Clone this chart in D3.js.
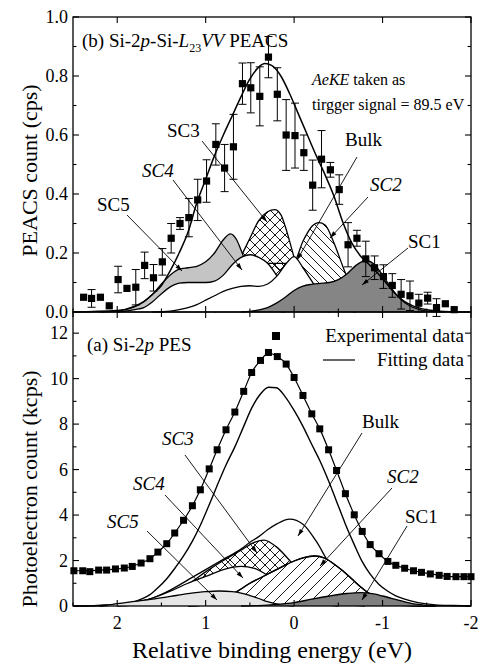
<!DOCTYPE html>
<html>
<head>
<meta charset="utf-8">
<script src="https://cdn.jsdelivr.net/npm/d3@7"></script>
</head>
<body style="margin:0">
<svg id="fig" width="494" height="666"></svg>
<div id="xtitle" style="position:absolute;left:0;top:637px;width:544px;text-align:center;font:24px 'Liberation Serif';line-height:normal;white-space:nowrap">Relative binding energy (eV)</div>
<script>
// ---- axis ticks ----
const energyTicks = [2, 1, 0, -1, -2];
const peacsTicks = [0, 0.2, 0.4, 0.6, 0.8, 1.0];
const pesTicks = [0, 2, 4, 6, 8, 10, 12];

// ---- (b) PEACS experimental points ----
const peacsX = [2.38, 2.29, 2.19, 2.09, 1.99, 1.89, 1.79, 1.69, 1.59, 1.49, 1.39, 1.29, 1.19, 1.09, 0.99,
  0.885, 0.786, 0.686, 0.584, 0.49, 0.388, 0.29, 0.19, 0.09, -0.01, -0.11, -0.21, -0.31, -0.41, -0.51,
  -0.61, -0.71, -0.81, -0.91, -1.01, -1.11, -1.21, -1.31, -1.41, -1.51, -1.61, -1.71, -1.81];
const peacsY = [0.050, 0.046, 0.050, 0.021, 0.110, 0.080, 0.084, 0.158, 0.116, 0.170, 0.250, 0.300, 0.320, 0.380, 0.444,
  0.568, 0.488, 0.560, 0.774, 0.760, 0.731, 0.864, 0.738, 0.600, 0.598, 0.540, 0.430, 0.518, 0.482, 0.415,
  0.228, 0.250, 0.180, 0.150, 0.120, 0.090, 0.060, 0.055, 0.030, 0.047, 0.015, 0.028, 0.008];
const peacsErr = [0, 0.03, 0, 0, 0.045, 0, 0.06, 0.045, 0.045, 0.045, 0.05, 0.02, 0.065, 0.07, 0.072,
  0.07, 0.08, 0.11, 0.07, 0.085, 0.10, 0.07, 0.09, 0.12, 0.11, 0.06, 0.085, 0.097, 0.025, 0.05,
  0.075, 0.027, 0.06, 0.04, 0.04, 0.04, 0.05, 0.05, 0.03, 0.02, 0.03, 0, 0];

// ---- (b) PEACS fitted curves [energy, cps] ----
const peacsFit = [[2.5, 0], [2.0, 0.005], [1.8, 0.02], [1.7, 0.035], [1.6, 0.06], [1.5, 0.09], [1.4, 0.14],
  [1.3, 0.2], [1.2, 0.27], [1.1, 0.37], [1.0, 0.45], [0.9, 0.53], [0.8, 0.6], [0.7, 0.665], [0.6, 0.73],
  [0.5, 0.79], [0.4, 0.83], [0.33, 0.842], [0.25, 0.835], [0.15, 0.8], [0.05, 0.74], [-0.05, 0.67],
  [-0.15, 0.6], [-0.25, 0.53], [-0.35, 0.465], [-0.45, 0.393], [-0.55, 0.305], [-0.65, 0.235],
  [-0.75, 0.19], [-0.85, 0.16], [-0.95, 0.13], [-1.05, 0.095], [-1.15, 0.06], [-1.25, 0.035],
  [-1.35, 0.02], [-1.5, 0.008], [-1.7, 0.002], [-2.0, 0]];
const peacsSC5 = [[2.2, 0], [2.0, 0.003], [1.9, 0.008], [1.8, 0.018], [1.7, 0.035], [1.6, 0.06], [1.5, 0.095],
  [1.4, 0.125], [1.3, 0.145], [1.2, 0.15], [1.1, 0.155], [1.0, 0.17], [0.9, 0.2], [0.8, 0.245], [0.72, 0.265],
  [0.65, 0.245], [0.6, 0.21], [0.5, 0.13], [0.4, 0.06], [0.3, 0.02], [0.2, 0.005], [0.1, 0]];
const peacsSC4 = [[2.0, 0], [1.8, 0.008], [1.7, 0.015], [1.6, 0.035], [1.5, 0.062], [1.4, 0.085], [1.3, 0.098],
  [1.2, 0.1], [1.1, 0.1], [1.0, 0.1], [0.9, 0.105], [0.8, 0.125], [0.7, 0.16], [0.6, 0.185], [0.5, 0.194],
  [0.4, 0.185], [0.3, 0.165], [0.2, 0.125], [0.1, 0.075], [0.0, 0.035], [-0.1, 0.012], [-0.2, 0]];
const peacsSC3 = [[1.5, 0], [1.3, 0.01], [1.2, 0.02], [1.1, 0.04], [1.0, 0.07], [0.9, 0.1], [0.8, 0.13],
  [0.7, 0.15], [0.6, 0.19], [0.5, 0.25], [0.4, 0.31], [0.3, 0.34], [0.22, 0.347], [0.15, 0.33], [0.1, 0.29],
  [0.0, 0.185], [-0.1, 0.09], [-0.2, 0.035], [-0.3, 0.01], [-0.4, 0]];
const peacsBulk = [[1.6, 0], [1.4, 0.003], [1.3, 0.008], [1.2, 0.015], [1.1, 0.025], [1.0, 0.04], [0.9, 0.055],
  [0.8, 0.07], [0.7, 0.08], [0.6, 0.087], [0.5, 0.089], [0.4, 0.087], [0.3, 0.095], [0.2, 0.12], [0.1, 0.16],
  [0.0, 0.188], [-0.1, 0.15], [-0.2, 0.105], [-0.3, 0.06], [-0.4, 0.03], [-0.5, 0.012], [-0.6, 0.004], [-0.7, 0]];
const peacsSC2 = [[0.9, 0], [0.8, 0.01], [0.7, 0.035], [0.6, 0.08], [0.5, 0.125], [0.4, 0.155], [0.3, 0.165],
  [0.2, 0.165], [0.1, 0.165], [0.0, 0.17], [-0.1, 0.24], [-0.2, 0.29], [-0.28, 0.303], [-0.35, 0.295],
  [-0.45, 0.235], [-0.55, 0.155], [-0.65, 0.08], [-0.75, 0.03], [-0.85, 0.01], [-1.0, 0]];
const peacsSC1 = [[0.6, 0], [0.5, 0.002], [0.4, 0.007], [0.3, 0.015], [0.2, 0.03], [0.1, 0.05], [0.0, 0.073],
  [-0.1, 0.088], [-0.2, 0.094], [-0.3, 0.097], [-0.4, 0.1], [-0.5, 0.11], [-0.6, 0.13], [-0.7, 0.158],
  [-0.8, 0.173], [-0.85, 0.172], [-0.9, 0.163], [-1.0, 0.125], [-1.1, 0.08], [-1.2, 0.045], [-1.3, 0.022],
  [-1.4, 0.01], [-1.5, 0.003], [-1.7, 0]];

// ---- (a) PES experimental points ----
const pesX = [2.49, 2.39, 2.31, 2.21, 2.12, 2.02, 1.92, 1.83, 1.73, 1.63, 1.54, 1.44, 1.35, 1.25, 1.15, 1.06,
  0.96, 0.87, 0.77, 0.67, 0.57, 0.48, 0.38, 0.29, 0.19, 0.09, 0.0, -0.10, -0.20, -0.29, -0.39, -0.48,
  -0.58, -0.68, -0.77, -0.86, -0.96, -1.06, -1.15, -1.25, -1.35, -1.44, -1.54, -1.64, -1.73, -1.83, -1.92, -2.0];
const pesY = [1.55, 1.55, 1.51, 1.58, 1.58, 1.63, 1.67, 1.74, 1.89, 2.08, 2.37, 2.74, 3.21, 3.77, 4.41, 5.11,
  6.03, 6.87, 7.75, 8.53, 9.44, 10.27, 10.80, 11.15, 10.97, 10.64, 10.05, 9.26, 8.45, 7.79, 6.87, 5.96,
  4.94, 4.01, 3.28, 2.70, 2.30, 1.96, 1.79, 1.66, 1.55, 1.48, 1.41, 1.35, 1.30, 1.29, 1.29, 1.29];

// ---- (a) PES fitted curves [energy, kcps] ----
const pesFit = [[2.5, 1.55], [2.39, 1.55], [2.21, 1.57], [2.02, 1.62], [1.92, 1.67], [1.83, 1.75], [1.73, 1.89],
  [1.63, 2.08], [1.54, 2.37], [1.44, 2.74], [1.35, 3.21], [1.25, 3.77], [1.15, 4.41], [1.06, 5.11], [0.96, 6.03],
  [0.87, 6.87], [0.77, 7.75], [0.67, 8.53], [0.57, 9.44], [0.48, 10.27], [0.38, 10.8], [0.29, 11.12],
  [0.19, 10.97], [0.09, 10.64], [0.0, 10.05], [-0.1, 9.26], [-0.2, 8.45], [-0.29, 7.79], [-0.39, 6.87],
  [-0.48, 5.96], [-0.58, 4.94], [-0.68, 4.01], [-0.77, 3.28], [-0.86, 2.7], [-0.96, 2.3], [-1.06, 1.96],
  [-1.15, 1.79], [-1.25, 1.66], [-1.35, 1.55], [-1.44, 1.48], [-1.54, 1.41], [-1.64, 1.35], [-1.73, 1.3],
  [-1.83, 1.29], [-2.0, 1.29]];
const pesSum = [[2.5, 0], [2.3, 0.01], [2.1, 0.05], [1.92, 0.1], [1.82, 0.17], [1.73, 0.3], [1.63, 0.5],
  [1.54, 0.8], [1.44, 1.2], [1.35, 1.65], [1.25, 2.2], [1.15, 2.85], [1.06, 3.55], [0.96, 4.45], [0.87, 5.3],
  [0.77, 6.2], [0.67, 7.0], [0.57, 7.9], [0.48, 8.7], [0.385, 9.3], [0.29, 9.62], [0.2, 9.6], [0.1, 9.2],
  [0.0, 8.6], [-0.1, 7.9], [-0.2, 7.1], [-0.29, 6.4], [-0.39, 5.5], [-0.48, 4.6], [-0.58, 3.6], [-0.68, 2.7],
  [-0.77, 1.95], [-0.86, 1.4], [-0.96, 0.95], [-1.06, 0.65], [-1.15, 0.45], [-1.25, 0.3], [-1.4, 0.15],
  [-1.6, 0.05], [-1.8, 0.02], [-2.0, 0]];
const pesBulk = [[2.2, 0], [2.0, 0.05], [1.8, 0.15], [1.6, 0.35], [1.4, 0.7], [1.2, 1.15], [1.0, 1.6],
  [0.8, 2.05], [0.6, 2.5], [0.5, 2.8], [0.4, 3.05], [0.3, 3.35], [0.2, 3.6], [0.05, 3.82], [-0.1, 3.6],
  [-0.25, 2.85], [-0.4, 1.85], [-0.55, 1.1], [-0.7, 0.6], [-0.85, 0.28], [-1.0, 0.12], [-1.2, 0.03], [-1.5, 0]];
const pesSC3 = [[2.0, 0], [1.8, 0.05], [1.6, 0.2], [1.4, 0.5], [1.2, 0.95], [1.0, 1.5], [0.8, 2.0], [0.6, 2.45],
  [0.45, 2.8], [0.34, 2.9], [0.2, 2.6], [0.05, 2.0], [-0.1, 1.3], [-0.25, 0.7], [-0.4, 0.3], [-0.6, 0.07], [-0.8, 0]];
const pesSC4 = [[2.2, 0], [2.0, 0.05], [1.8, 0.15], [1.6, 0.35], [1.4, 0.65], [1.2, 1.0], [1.0, 1.3], [0.8, 1.6],
  [0.6, 1.74], [0.45, 1.65], [0.3, 1.35], [0.15, 0.95], [0.0, 0.55], [-0.15, 0.25], [-0.3, 0.08], [-0.5, 0]];
const pesSC2 = [[1.2, 0], [1.0, 0.05], [0.9, 0.15], [0.8, 0.3], [0.7, 0.5], [0.6, 0.75], [0.5, 1.0], [0.4, 1.2],
  [0.3, 1.4], [0.2, 1.6], [0.1, 1.8], [0.0, 1.98], [-0.1, 2.12], [-0.23, 2.2], [-0.35, 2.1], [-0.45, 1.85],
  [-0.55, 1.55], [-0.65, 1.2], [-0.75, 0.85], [-0.85, 0.55], [-0.95, 0.32], [-1.05, 0.17], [-1.2, 0.06],
  [-1.4, 0.01], [-1.6, 0]];
const pesSC5 = [[2.5, 0], [2.2, 0.02], [2.0, 0.1], [1.8, 0.2], [1.6, 0.3], [1.4, 0.42], [1.2, 0.54], [1.0, 0.63],
  [0.85, 0.66], [0.7, 0.63], [0.6, 0.57], [0.5, 0.46], [0.4, 0.33], [0.3, 0.19], [0.2, 0.09], [0.1, 0.03], [0.0, 0]];
const pesSC1 = [[0.6, 0], [0.4, 0.02], [0.2, 0.07], [0.0, 0.15], [-0.2, 0.3], [-0.4, 0.44], [-0.6, 0.55],
  [-0.75, 0.59], [-0.9, 0.53], [-1.0, 0.44], [-1.1, 0.34], [-1.2, 0.24], [-1.3, 0.14], [-1.4, 0.07],
  [-1.5, 0.03], [-1.7, 0.005], [-2.0, 0]];

const svg = d3.select('#fig');
const left = 73, right = 471;
const topY0 = 17, midY = 312, botY = 606;

const x = d3.scaleLinear().domain([2.5, -2]).range([left, right]);
const yTop = d3.scaleLinear().domain([0, 1]).range([midY, topY0]);
const yBot = d3.scaleLinear().domain([0, 12.93]).range([botY, midY]);

// hatch patterns
const defs = svg.append('defs');
function hatch(id, size, dirs) {
  const p = defs.append('pattern').attr('id', id).attr('patternUnits', 'userSpaceOnUse')
    .attr('width', size).attr('height', size);
  let d = '';
  if (dirs.includes('/')) d += `M${-size},${size} L${size},${-size} M0,${size} L${size},0 M0,${2 * size} L${2 * size},0 `;
  if (dirs.includes('\\')) d += `M${-size},0 L${size},${2 * size} M0,0 L${size},${size} M0,${-size} L${2 * size},${size} `;
  p.append('path').attr('d', d).attr('stroke', '#000').attr('stroke-width', 0.9).attr('fill', 'none');
}
hatch('xhatch', 10, '/\\');
hatch('backHatch', 9, '\\');
hatch('fwdHatch', 12, '/');

function drawComp(g, y, pts, fill) {
  const area = d3.area().x(d => x(d[0])).y0(y(0)).y1(d => y(d[1])).curve(d3.curveMonotoneX);
  const line = d3.line().x(d => x(d[0])).y(d => y(d[1])).curve(d3.curveMonotoneX);
  g.append('path').datum(pts).attr('d', area).attr('fill', fill).attr('stroke', 'none');
  g.append('path').datum(pts).attr('d', line).attr('fill', 'none').attr('stroke', '#000').attr('stroke-width', 1.3);
}

function drawLine(g, y, pts, w) {
  const line = d3.line().x(d => x(d[0])).y(d => y(d[1])).curve(d3.curveMonotoneX);
  g.append('path').datum(pts).attr('d', line).attr('fill', 'none').attr('stroke', '#000').attr('stroke-width', w);
}

function frame(y, top, bottom, majors, minors, topMinor) {
  const g = svg.append('g');
  g.append('rect').attr('x', left).attr('y', top).attr('width', right - left).attr('height', bottom - top)
    .attr('fill', 'none').attr('stroke', '#000').attr('stroke-width', 1.3);
  const tk = (x1, y1, x2, y2) => g.append('line').attr('x1', x1).attr('y1', y1).attr('x2', x2).attr('y2', y2)
    .attr('stroke', '#000').attr('stroke-width', 1.1);
  majors.forEach(v => { tk(left, y(v), left + 6, y(v)); tk(right, y(v), right - 6, y(v)); });
  minors.forEach(v => { tk(left, y(v), left + 3.5, y(v)); tk(right, y(v), right - 3.5, y(v)); });
  energyTicks.forEach(v => { tk(x(v), bottom, x(v), bottom - 6); tk(x(v), top, x(v), top + 6); });
  [2.5, 1.5, 0.5, -0.5, -1.5].forEach(v => {
    tk(x(v), bottom, x(v), bottom - 3.5);
    if (topMinor) tk(x(v), top, x(v), top + 5);
  });
  return g;
}

function arrow(g, x1, y1, x2, y2) {
  g.append('line').attr('x1', x1).attr('y1', y1).attr('x2', x2).attr('y2', y2)
    .attr('stroke', '#000').attr('stroke-width', 0.9);
  const a = Math.atan2(y2 - y1, x2 - x1), L = 7, w = 2.2;
  const bx = x2 - L * Math.cos(a), by = y2 - L * Math.sin(a);
  g.append('path').attr('d', `M${x2},${y2} L${bx - w * Math.sin(a)},${by + w * Math.cos(a)} L${bx + w * Math.sin(a)},${by - w * Math.cos(a)} Z`)
    .attr('fill', '#000');
}

function txt(tx, ty, size) {
  return svg.append('text').attr('x', tx).attr('y', ty).attr('font-size', size)
    .style('font-family', '"Liberation Serif"');
}

function label(tx, ty, s, italic) {
  txt(tx, ty, 19).attr('font-style', italic ? 'italic' : 'normal').text(s);
}

// ================= top panel (b) PEACS =================
const gTop = svg.append('g');
drawComp(gTop, yTop, peacsSC2, 'url(#backHatch)');
drawComp(gTop, yTop, peacsSC3, 'url(#xhatch)');
drawComp(gTop, yTop, peacsSC5, '#c4c4c4');
drawComp(gTop, yTop, peacsSC4, '#fff');
drawComp(gTop, yTop, peacsBulk, '#fff');
drawComp(gTop, yTop, peacsSC1, '#858585');
drawLine(gTop, yTop, peacsFit, 1.5);

// error bars + squares
const peacs = peacsX.map((v, i) => ({ v, y: peacsY[i], e: peacsErr[i] }));
peacs.filter(d => d.e > 0).forEach(d => {
  const cx = x(d.v), y1 = yTop(d.y - d.e), y2 = yTop(d.y + d.e);
  gTop.append('line').attr('x1', cx).attr('x2', cx).attr('y1', y1).attr('y2', y2).attr('stroke', '#000').attr('stroke-width', 1);
  [y1, y2].forEach(yy => gTop.append('line').attr('x1', cx - 4).attr('x2', cx + 4).attr('y1', yy).attr('y2', yy)
    .attr('stroke', '#000').attr('stroke-width', 1));
});
gTop.selectAll('rect.pt').data(peacs).join('rect').attr('class', 'pt')
  .attr('x', d => x(d.v) - 3.6).attr('y', d => yTop(d.y) - 3.6).attr('width', 7.2).attr('height', 7.2).attr('fill', '#000');

frame(yTop, topY0, midY, peacsTicks, [0.1, 0.3, 0.5, 0.7, 0.9], false);
peacsTicks.forEach(d => txt(68, yTop(d) + 6, 18).attr('text-anchor', 'end').text(d.toFixed(1)));

const tTitle = txt(82, 47, 19);
tTitle.append('tspan').text('(b) Si-2');
tTitle.append('tspan').attr('font-style', 'italic').text('p');
tTitle.append('tspan').text('-Si-');
tTitle.append('tspan').attr('font-style', 'italic').text('L');
tTitle.append('tspan').attr('font-size', 12).attr('dy', 5).text('23');
tTitle.append('tspan').attr('font-style', 'italic').attr('dy', -5).text('VV');
tTitle.append('tspan').text(' PEACS');

const tNote = txt(312, 85, 16);
tNote.append('tspan').attr('font-style', 'italic').text('AeKE');
tNote.append('tspan').text(' taken as');
txt(312, 110, 16).text('tirgger signal = 89.5 eV');

label(167, 137, 'SC3', false);
label(142, 177, 'SC4', true);
label(97, 211, 'SC5', false);
label(345, 146, 'Bulk', false);
label(370, 191, 'SC2', true);
label(408, 248, 'SC1', false);
arrow(gTop, 127, 215, 182, 271);
arrow(gTop, 173, 180, 242, 270);
arrow(gTop, 202, 141, 267, 222);
arrow(gTop, 357, 157, 297, 260);
arrow(gTop, 368, 197, 330, 238);
arrow(gTop, 408, 248, 362, 285);

txt(0, 0, 22).attr('transform', `translate(37,${(topY0 + midY) / 2 + 6}) rotate(-90)`)
  .attr('text-anchor', 'middle').text('PEACS count (cps)');

// ================= bottom panel (a) PES =================
const gBot = svg.append('g');
drawLine(gBot, yBot, pesSum, 1.4);
drawComp(gBot, yBot, pesBulk, '#fff');
drawComp(gBot, yBot, pesSC3, 'url(#xhatch)');
drawComp(gBot, yBot, pesSC4, '#fff');
drawComp(gBot, yBot, pesSC2, '#fff');
drawComp(gBot, yBot, pesSC2, 'url(#fwdHatch)');
drawComp(gBot, yBot, pesSC5, '#e6e6e6');
drawComp(gBot, yBot, pesSC1, '#7f7f7f');
drawLine(gBot, yBot, pesFit, 1.2);

const pes = pesX.map((v, i) => ({ v, y: pesY[i] }));
gBot.selectAll('rect.pt').data(pes).join('rect').attr('class', 'pt')
  .attr('x', d => x(d.v) - 3.5).attr('y', d => yBot(d.y) - 3.5).attr('width', 7).attr('height', 7).attr('fill', '#000');

frame(yBot, midY, botY, pesTicks, [1, 3, 5, 7, 9, 11], true);
pesTicks.forEach(d => txt(68, yBot(d) + 6, 18).attr('text-anchor', 'end').text(d));
energyTicks.forEach(d => txt(x(d), 629, 18).attr('text-anchor', 'middle').text(d));

const tA = txt(87, 351, 19);
tA.append('tspan').text('(a) Si-2');
tA.append('tspan').attr('font-style', 'italic').text('p');
tA.append('tspan').text(' PES');

// legend
gBot.append('rect').attr('x', 272).attr('y', 332).attr('width', 8).attr('height', 8).attr('fill', '#000');
txt(464, 342, 19).attr('text-anchor', 'end').text('Experimental data');
gBot.append('line').attr('x1', 323).attr('x2', 355).attr('y1', 360).attr('y2', 360).attr('stroke', '#000').attr('stroke-width', 1.2);
txt(464, 366, 19).attr('text-anchor', 'end').text('Fitting data');

label(162, 445, 'SC3', true);
label(133, 490, 'SC4', true);
label(107, 528, 'SC5', true);
label(362, 428, 'Bulk', false);
label(387, 483, 'SC2', true);
label(405, 523, 'SC1', false);
arrow(gBot, 185, 455, 257, 553);
arrow(gBot, 165, 495, 243, 578);
arrow(gBot, 147, 531, 217, 600);
arrow(gBot, 362, 433, 298, 536);
arrow(gBot, 392, 488, 320, 566);
arrow(gBot, 407, 526, 362, 600);

txt(0, 0, 22).attr('transform', `translate(37,${(midY + botY) / 2 + 30}) rotate(-90)`)
  .attr('text-anchor', 'middle').text('Photoelectron count (kcps)');
</script>
</body>
</html>
